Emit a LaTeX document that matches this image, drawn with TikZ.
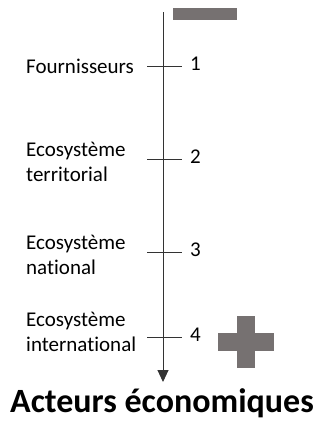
\documentclass[tikz,border=0pt]{standalone}
\usepackage{fontspec}
\setmainfont{Carlito}[Ligatures=NoCommon]
\usepackage{tikz}
\usetikzlibrary{arrows.meta}
\definecolor{barre}{HTML}{767171}

\begin{document}
\begin{tikzpicture}[x=1pt, y=-1pt,
        acteur/.style={anchor=west, align=left, inner sep=0pt, font=\fontsize{21}{25}\selectfont},
        rang/.style={anchor=west, inner sep=0pt, font=\fontsize{21}{25}\selectfont}]
    \useasboundingbox (0,0) rectangle (323,421);

    % axe vertical
    \coordinate (haut) at (163,12);
    \coordinate (bas) at (163,382);
    \draw[line width=1pt, black!80, -{Triangle[length=12pt, width=11pt]}] (haut) -- (bas);

    % graduations
    \foreach \y/\n in {66/1,159/2,252/3,337/4} {
            \draw[line width=1pt, black!80] (147,\y) -- (182,\y);
            \node[rang] (r\n) at (190,\y-2) {\n};
        }

    \node[acteur] (four) at (26,66) {Fournisseurs};
    \node[acteur] (terr) at (26,162) {Ecosystème\\territorial};
    \node[acteur] (nat) at (26,255) {Ecosystème\\national};
    \node[acteur] (inter) at (26,332) {Ecosystème\\international};

    % moins et plus
    \fill[barre] (173,8) rectangle (237,20);
    \begin{scope}[shift={(246,342)}]
        \fill[barre] (-28,-9) rectangle (28,9);
        \fill[barre] (-9,-26) rectangle (9,26);
    \end{scope}

    \node[anchor=base, inner sep=0pt, font=\fontsize{34}{40}\selectfont\bfseries] (titre) at (162,412) {Acteurs économiques};
\end{tikzpicture}
\end{document}
